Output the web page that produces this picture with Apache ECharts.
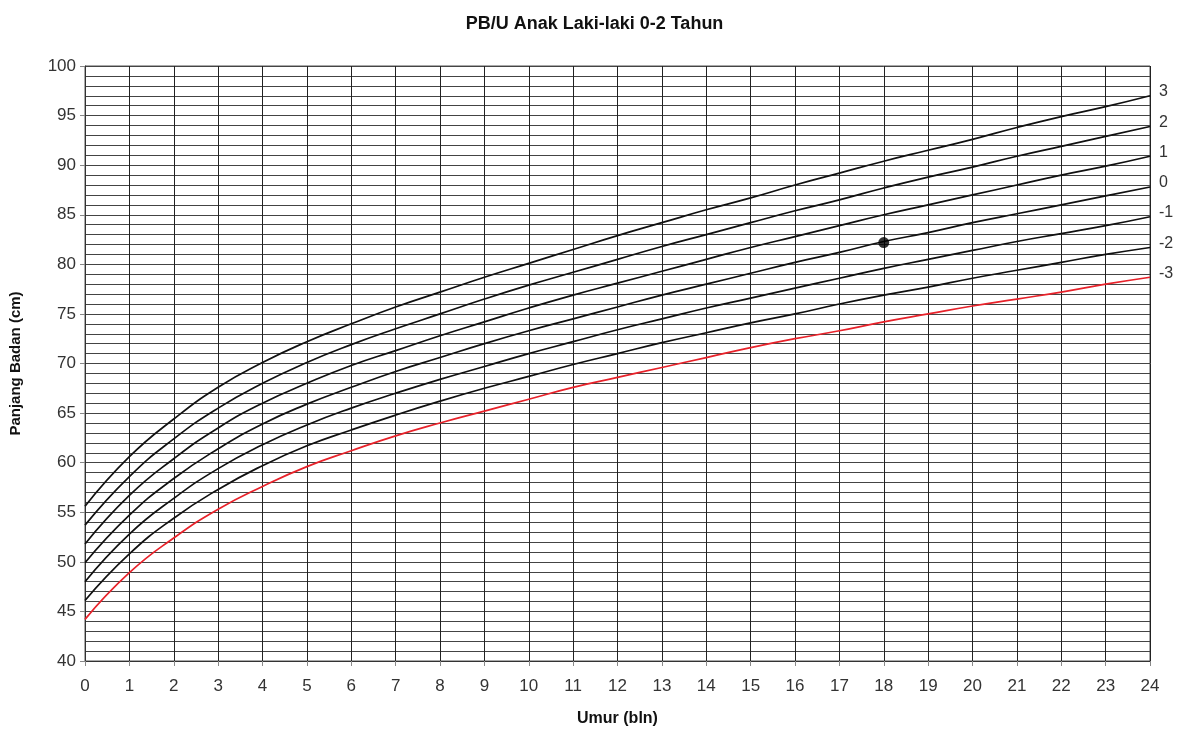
<!DOCTYPE html>
<html>
<head>
<meta charset="utf-8">
<script src="https://cdn.jsdelivr.net/npm/echarts@6/dist/echarts.min.js"></script>
<style>
  html, body { margin: 0; padding: 0; background: #fff; }
  #graph { width: 1189px; height: 733px; }
</style>
</head>
<body>
<div id="graph"></div>
<script>
// umur (bulan) 0..24
var months = [0,1,2,3,4,5,6,7,8,9,10,11,12,13,14,15,16,17,18,19,20,21,22,23,24];

// panjang badan per garis z-score
var sdMin3 = [44.2,48.9,52.4,55.3,57.6,59.6,61.2,62.7,64.0,65.2,66.4,67.6,68.6,69.6,70.6,71.6,72.5,73.3,74.2,75.0,75.8,76.5,77.2,78.0,78.7];
var sdMin2 = [46.1,50.8,54.4,57.3,59.7,61.7,63.3,64.8,66.2,67.5,68.7,69.9,71.0,72.1,73.1,74.1,75.0,76.0,76.9,77.7,78.6,79.4,80.2,81.0,81.7];
var sdMin1 = [48.0,52.8,56.4,59.4,61.8,63.8,65.5,67.0,68.4,69.7,71.0,72.2,73.4,74.5,75.6,76.6,77.6,78.6,79.6,80.5,81.4,82.3,83.1,83.9,84.8];
var sd0    = [49.9,54.7,58.4,61.4,63.9,65.9,67.6,69.2,70.6,72.0,73.3,74.5,75.7,76.9,78.0,79.1,80.2,81.2,82.3,83.2,84.2,85.1,86.0,86.9,87.8];
var sdPlus1 = [51.8,56.7,60.4,63.5,66.0,68.0,69.8,71.3,72.8,74.2,75.6,76.9,78.1,79.3,80.5,81.7,82.8,83.9,85.0,86.0,87.0,88.0,89.0,89.9,90.9];
var sdPlus2 = [53.7,58.6,62.4,65.5,68.0,70.1,71.9,73.5,75.0,76.5,77.9,79.2,80.5,81.8,83.0,84.2,85.4,86.5,87.7,88.8,89.8,90.9,91.9,92.9,93.9];
var sdPlus3 = [55.6,60.6,64.4,67.6,70.1,72.2,74.0,75.7,77.2,78.7,80.1,81.5,82.9,84.2,85.5,86.7,88.0,89.2,90.4,91.5,92.6,93.8,94.9,95.9,97.0];

var lineNames = ['3','2','1','0','-1','-2','-3'];
var lineData = [sdPlus3, sdPlus2, sdPlus1, sd0, sdMin1, sdMin2, sdMin3];

// titik anak
var childAge = [18];
var childLength = [82.2];

var chartDom = document.getElementById('graph');
var myChart = echarts.init(chartDom);
var option;

var fontFam = '"Liberation Sans", Arial, sans-serif';

var series = [];
for (var i = 0; i < lineNames.length; i++) {
  var pts = [];
  for (var j = 0; j < months.length; j++) {
    pts.push([months[j], lineData[i][j]]);
  }
  series.push({
    name: lineNames[i],
    type: 'line',
    smooth: true,
    symbol: 'none',
    yAxisIndex: 0,
    data: pts,
    lineStyle: {
      width: 1.7,
      color: lineNames[i] === '-3' ? '#e8222a' : '#111'
    },
    endLabel: {
      show: true,
      formatter: lineNames[i],
      distance: 9,
      offset: [0, -4],
      color: '#333',
      fontSize: 16,
      fontFamily: fontFam
    },
    silent: true,
    z: 3
  });
}

series.push({
  name: 'anak',
  type: 'scatter',
  data: [[childAge[0], childLength[0]]],
  symbolSize: 11,
  itemStyle: { color: '#000' },
  z: 5
});

option = {
  animation: false,
  backgroundColor: '#fff',
  title: {
    text: 'PB/U Anak Laki-laki 0-2 Tahun',
    left: 'center',
    top: 10,
    textStyle: {
      fontFamily: fontFam,
      fontWeight: 'bold',
      fontSize: 18,
      color: '#111'
    }
  },
  grid: {
    left: 85,
    right: 39,
    top: 66,
    bottom: 72,
    show: true,
    borderColor: '#555',
    borderWidth: 1
  },
  xAxis: {
    type: 'value',
    min: 0,
    max: 24,
    interval: 1,
    name: 'Umur (bln)',
    nameLocation: 'middle',
    nameGap: 50,
    nameTextStyle: {
      fontFamily: fontFam,
      fontWeight: 'bold',
      fontSize: 16,
      color: '#111'
    },
    axisLine: { lineStyle: { color: '#333' } },
    axisTick: { show: true, length: 5, lineStyle: { color: '#888' } },
    axisLabel: {
      fontFamily: fontFam,
      fontSize: 17,
      color: '#333',
      margin: 17
    },
    splitLine: { show: true, lineStyle: { color: '#222', width: 1 } }
  },
  yAxis: [
    {
      type: 'value',
      min: 40,
      max: 100,
      interval: 5,
      name: 'Panjang Badan (cm)',
      nameLocation: 'middle',
      nameGap: 62,
      nameTextStyle: {
        fontFamily: fontFam,
        fontWeight: 'bold',
        fontSize: 15,
        color: '#111'
      },
      axisLine: { show: true, lineStyle: { color: '#333' } },
      axisTick: { show: true, length: 5, lineStyle: { color: '#888' } },
      axisLabel: {
        fontFamily: fontFam,
        fontSize: 17,
        color: '#333',
        margin: 9
      },
      splitLine: { show: false }
    },
    {
      type: 'value',
      min: 40,
      max: 100,
      interval: 1,
      position: 'left',
      axisLine: { show: false },
      axisTick: { show: false },
      axisLabel: { show: false },
      splitLine: { show: true, lineStyle: { color: '#444', width: 1 } }
    }
  ],
  series: series
};

option && myChart.setOption(option);
</script>
</body>
</html>
